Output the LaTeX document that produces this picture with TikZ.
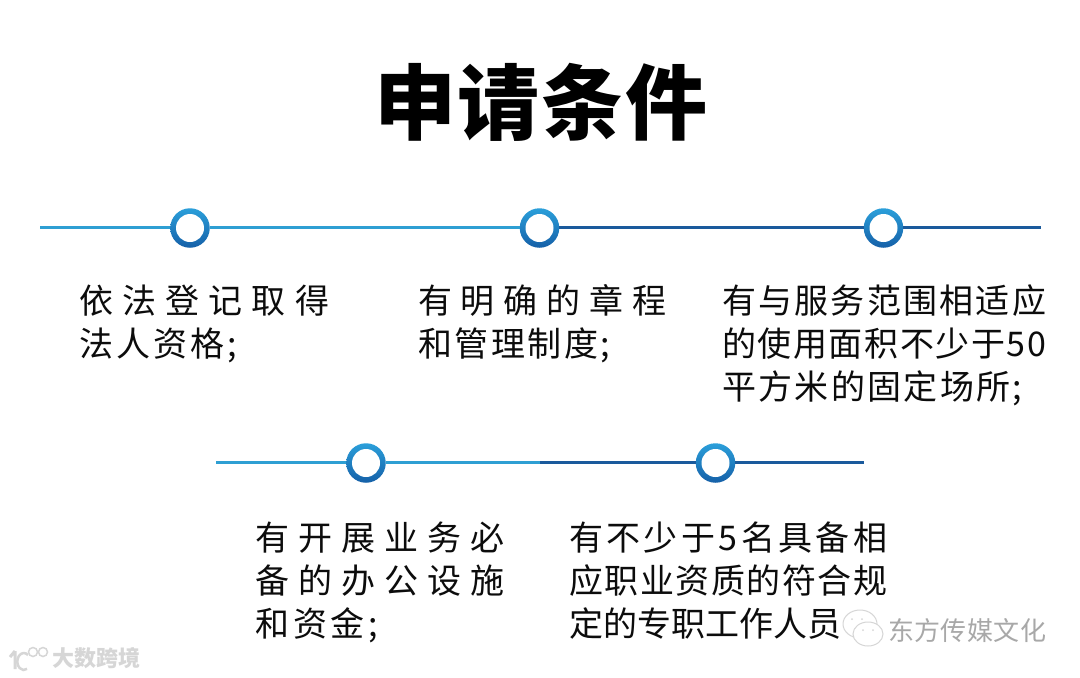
\documentclass[tikz,border=0pt]{standalone}
\usepackage{fontspec}
\setmainfont{Noto Sans CJK SC}
\definecolor{lineL}{HTML}{2E9FD3}
\definecolor{lineD}{HTML}{1A5A9C}
\definecolor{ringT}{HTML}{2B9FDA}
\definecolor{ringB}{HTML}{1560A8}
\definecolor{ink}{HTML}{0C0C0C}
\definecolor{wm}{HTML}{A8A8A8}
\definecolor{wml}{HTML}{D6D6D6}
\def\sploop#1#2{#1\ifx#2\relax\else\hfil\expandafter\sploop\expandafter#2\fi}
\newcommand\sline[2]{\makebox[#1pt][s]{\sploop#2\relax}}
\tikzset{
  ring/.style={circle,draw=none,inner sep=0pt,minimum size=39.5pt,top color=ringT,bottom color=ringB,
    path picture={\fill[white] (path picture bounding box.center) circle (14pt);}},
  lt/.style={line width=3pt,lineL},
  dk/.style={line width=3pt,lineD},
  body/.style={anchor=base west,inner sep=0pt,text=ink,font=\fontsize{34pt}{34pt}\selectfont},
  wmark/.style={anchor=base west,inner sep=0pt,text=wm,font=\fontsize{26pt}{26pt}\selectfont},
  bubble/.style={draw=wml,line width=1pt,fill=white},
}
\begin{document}
\begin{tikzpicture}[x=1pt,y=-1pt]
\useasboundingbox[fill=white] (0,0) rectangle (1080,678);
\node[anchor=base west,inner sep=0pt,text=black,font=\fontsize{82pt}{82pt}\selectfont\bfseries] (title) at (374,133) {\sline{333}{申请条件}};
% row 1
\coordinate (s1) at (40,227);
\coordinate (e1) at (1041,227);
\node[ring] (c1) at (190,228) {};
\node[ring] (c2) at (539.5,228) {};
\node[ring] (c3) at (883.5,228) {};
\draw[lt] (s1) -- (c1.west |- s1);
\draw[lt] (c1.east |- s1) -- (c2.west |- s1);
\draw[dk] (c2.east |- s1) -- (c3.west |- s1);
\draw[dk] (c3.east |- s1) -- (e1);
% row 2
\coordinate (s2) at (216,462);
\coordinate (m2) at (540,462);
\coordinate (e2) at (864,462);
\node[ring] (c4) at (366,463) {};
\node[ring] (c5) at (715.5,463) {};
\draw[lt] (s2) -- (c4.west |- s2);
\draw[lt] (c4.east |- s2) -- (m2);
\draw[dk] (m2) -- (c5.west |- s2);
\draw[dk] (c5.east |- s2) -- (e2);
% texts
\node[body] (a1) at (79,313) {\sline{250}{依法登记取得}};
\node[body] (a2) at (79,356) {\sline{158}{法人资格;}};
\node[body] (b1) at (418,313) {\sline{248}{有明确的章程}};
\node[body] (b2) at (418,356) {\sline{192}{和管理制度;}};
\node[body] (d1) at (722,313) {\sline{324}{有与服务范围相适应}};
\node[body] (d2) at (722,356) {\sline{324}{的使用面积不少于50}};
\node[body] (d3) at (722,399) {\sline{300}{平方米的固定场所;}};
\node[body] (f1) at (255,550) {\sline{249}{有开展业务必}};
\node[body] (f2) at (255,593) {\sline{249}{备的办公设施}};
\node[body] (f3) at (255,636) {\sline{123}{和资金;}};
\node[body] (g1) at (569,550) {\sline{318}{有不少于5名具备相}};
\node[body] (g2) at (569,593) {\sline{318}{应职业资质的符合规}};
\node[body] (g3) at (569,636) {\sline{272}{定的专职工作人员}};
% watermark right
\fill[bubble] (860,624) ellipse (17pt and 14pt);
\fill[bubble] (866,634) -- (862,640) -- (872,637) -- cycle;
\fill[bubble] (868,634) ellipse (15pt and 12pt);
\fill[wml] (863,630) circle (1pt) (873,630) circle (1pt) (852,619) circle (1pt) (862,619) circle (1pt);
\node[wmark] (w1) at (888,640) {\sline{158}{东方传媒文化}};
% watermark left
\draw[wml,line width=3pt] (15,651) -- (15,669) (15,651) -- (10,657);
\draw[wml,line width=2.5pt] (28,655) arc (50:300:6.5pt and 8.5pt);
\draw[wml,line width=1.5pt] (33,652) circle (4.5pt) (43,652) circle (4.5pt);
\node[anchor=base west,inner sep=0pt,text=wml,font=\fontsize{22pt}{22pt}\selectfont\bfseries] (w2) at (52,666) {\sline{88}{大数跨境}};
\end{tikzpicture}
\end{document}
